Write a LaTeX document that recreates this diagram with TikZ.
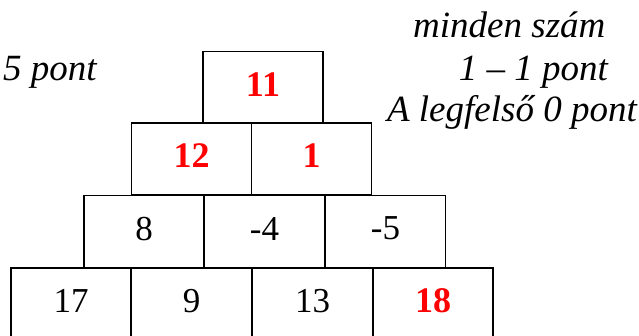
\documentclass[tikz,border=0pt]{standalone}
\usepackage{fontspec}
\setmainfont{Liberation Serif}
\usetikzlibrary{positioning}
\tikzset{
  cell/.style={draw,rectangle,minimum width=120pt,minimum height=72pt,inner sep=0pt,text depth=6pt,line width=1.5pt,font=\fontsize{35}{40}\selectfont},
  given/.style={cell},
  found/.style={cell,text=red,font=\fontsize{36}{40}\selectfont\bfseries},
  note/.style={inner sep=0pt,font=\fontsize{37}{42}\selectfont\itshape}
}
\begin{document}
\begin{tikzpicture}[x=1pt,y=-1pt]
  \useasboundingbox (0,0) rectangle (639,336);
  % top
  \node[found] (top) at (263,87.5) {11};
  % second row
  \node[found] (b1) at (191.5,159) {12};
  \node[found] (b2) at (311.5,159) {1};
  % third row
  \node[given] (c1) at (144,231.5) {8};
  \node[given] (c2) at (264.5,231.5) {-4};
  \node[given] (c3) at (385.5,231.5) {-5};
  % bottom row
  \node[given] (d1) at (71,304) {17};
  \node[given] (d2) at (191.5,304) {9};
  \node[given] (d3) at (312.5,304) {13};
  \node[found] (d4) at (433,304) {18};

  \node[note,anchor=base west] (pts) at (3,81) {5 pont};
  \node[note,anchor=base west] (rule1) at (413,38) {minden szám};
  \node[note,anchor=base east] (rule2) at (608,81) {1 – 1 pont};
  \node[note,anchor=base east] (rule3) at (637,122) {A legfelső 0 pont};
\end{tikzpicture}
\end{document}
